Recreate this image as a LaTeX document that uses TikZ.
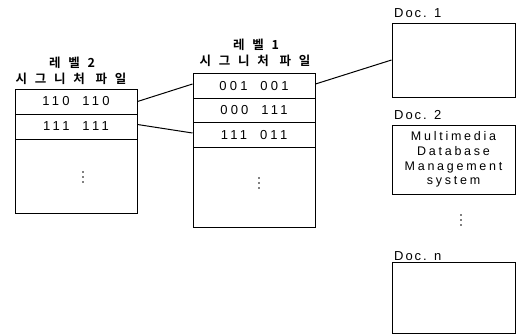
\documentclass[tikz,border=0pt]{standalone}
\usepackage{fontspec}
\setmainfont{Liberation Sans}
\newfontfamily\numf[LetterSpace=25]{Liberation Sans}
\newfontfamily\labf[LetterSpace=15]{Liberation Sans}
\newfontfamily\docf[LetterSpace=22]{Liberation Sans}
\newfontfamily\krf[LetterSpace=62]{Noto Sans CJK KR Bold}
\begin{document}
\begin{tikzpicture}[x=1pt,y=-1pt,
  cell/.style={draw, line width=1pt, minimum width=122pt, inner sep=0pt, font=\numf\fontsize{13}{13}\selectfont},
  docbox/.style={draw, line width=1pt, minimum width=123pt, inner sep=0pt},
  title/.style={font=\krf\fontsize{12.5}{14}\selectfont, inner sep=0pt, align=center},
  doclab/.style={font=\labf\fontsize{13}{13}\selectfont, inner sep=0pt, anchor=west},
  dot/.style={fill, circle, inner sep=0pt, minimum size=1.6pt},
  link/.style={line width=1pt}]
\useasboundingbox (0,0) rectangle (519,335);
% level 2
\node[title] (t2a) at (72,63) {레벨2};
\node[title] (t2b) at (71,79) {시그니처 파일};
\node[cell, minimum height=25pt] (l2a) at (76,101.5) {110\hspace{13pt}110};
\node[cell, minimum height=25pt] (l2b) at (76,126.5) {111\hspace{13pt}111};
\node[cell, minimum height=74pt] (l2c) at (76,176) {};
\node[dot] (l2d1) at (83,172) {};
\node[dot] (l2d2) at (83,177) {};
\node[dot] (l2d3) at (83,182) {};
% level 1
\node[title] (t1a) at (256,45) {레벨1};
\node[title] (t1b) at (255,61) {시그니처 파일};
\node[cell, minimum height=25pt] (m1a) at (254,86) {001\hspace{13pt}001};
\node[cell, minimum height=24pt] (m1b) at (254,110.5) {000\hspace{13pt}111};
\node[cell, minimum height=25pt] (m1c) at (254,135) {111\hspace{13pt}011};
\node[cell, minimum height=80pt] (m1d) at (254,187.5) {};
\node[dot] (m1e1) at (259,178) {};
\node[dot] (m1e2) at (259,183) {};
\node[dot] (m1e3) at (259,188) {};
% documents
\node[doclab] (d1l) at (394,13) {Doc. 1};
\node[docbox, minimum height=74pt] (d1) at (453.5,60) {};
\node[doclab] (d2l) at (394,115) {Doc. 2};
\node[docbox, minimum height=69pt, align=center, font=\docf\fontsize{12.5}{14.7}\selectfont] (d2) at (453.5,159.5) {Multimedia\\Database\\Management\\system};
\node[dot] (dd1) at (461,215) {};
\node[dot] (dd2) at (461,220) {};
\node[dot] (dd3) at (461,225) {};
\node[doclab] (dnl) at (394,256) {Doc. n};
\node[docbox, minimum height=71pt] (dn) at (453.5,297.5) {};
% links
\draw[link] (l2a.east) -- ([yshift=2pt]m1a.west);
\draw[link] ([yshift=2pt]l2b.east) -- ([yshift=2pt]m1c.west);
\draw[link] ([yshift=2pt]m1a.east) -- (d1.west);
\end{tikzpicture}
\end{document}
